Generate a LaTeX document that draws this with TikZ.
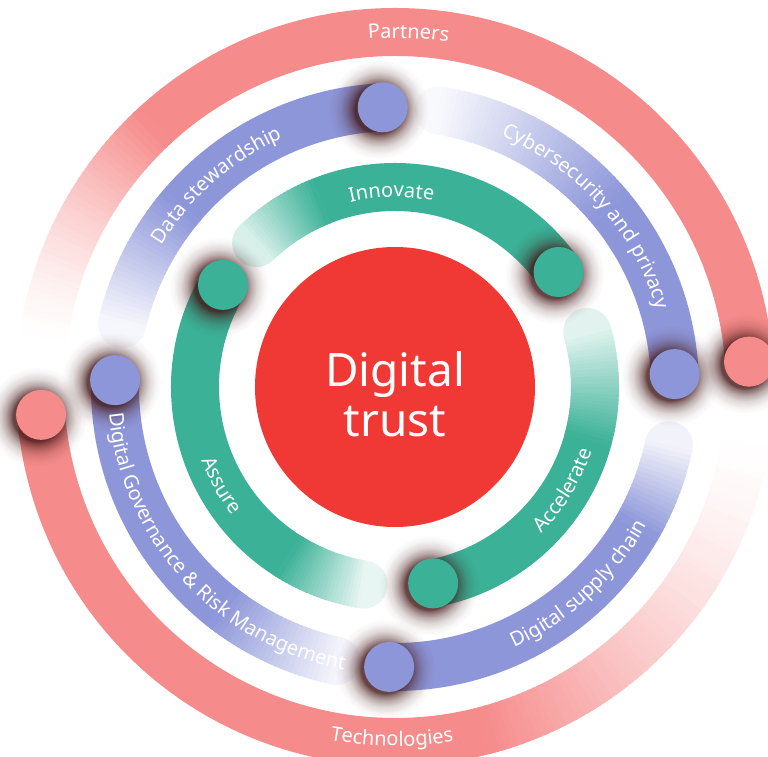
\documentclass[tikz,border=0pt]{standalone}
\usepackage{fontspec}
\setmainfont{Noto Sans}
\usetikzlibrary{decorations.text,fadings}

\definecolor{trustred}{RGB}{240,56,52}
\definecolor{ringgreen}{RGB}{59,177,151}
\definecolor{ringblue}{RGB}{141,150,217}
\definecolor{ringpink}{RGB}{246,139,139}
\definecolor{shadowbrown}{RGB}{66,20,20}

\newcommand{\ringlabelfont}{\fontsize{20pt}{20pt}\selectfont}
\newcommand{\trustfont}{\fontsize{46pt}{46pt}\selectfont}

% soft round shadow: opaque core, blurred rim (25bp is the rim of the fitted path)
\pgfdeclareradialshading{dotshadowshade}{\pgfpointorigin}{%
  color(0bp)=(white); color(12bp)=(white); color(13.5bp)=(white!75!black);
  color(16bp)=(white!45!black); color(19bp)=(white!20!black);
  color(22.5bp)=(white!5!black); color(25bp)=(black)}
\pgfdeclarefading{dotshadowfade}{\pgfuseshading{dotshadowshade}}

% one clockwise ring segment: tinted tail fading in, solid run, ends under a dot
% #1 colour, #2 radius, #3 start angle, #4 angle where it turns solid,
% #5 end angle, #6 starting tint (percent), #7 tint exponent
\newcommand{\ringseg}[7]{%
  \draw[band, draw=#1] (#4:#2pt) arc[start angle=#4, end angle=#5, radius=#2pt];
  \draw[band, line cap=round, draw=#1!#6!white] (#3:#2pt)
    arc[start angle=#3, end angle={#3+0.5*(#4-#3)/abs(#4-#3)}, radius=#2pt];
  \pgfmathtruncatemacro{\segN}{abs(#4-#3)}%
  \pgfmathtruncatemacro{\segM}{\segN-1}%
  \foreach \segK in {0,...,\segM}{%
    \pgfmathsetmacro{\segA}{#3+(#4-#3)*\segK/\segN}%
    \pgfmathsetmacro{\segB}{#3+(#4-#3)*(\segK+1.6)/\segN}%
    \pgfmathtruncatemacro{\segP}{#6+(100-#6)*((\segK+0.5)/\segN)^#7}%
    \draw[band, draw=#1!\segP!white] (\segA:#2pt) arc[start angle=\segA, end angle=\segB, radius=#2pt];
  }%
}

\begin{document}
\begin{tikzpicture}[x=1pt,y=1pt,
  band/.style={line width=48pt, line cap=butt},
  dot/.style={circle, minimum size=50pt, inner sep=0pt, outer sep=0pt, draw=none},
  dotshade/.style={fill=shadowbrown, fill opacity=0.8, path fading=dotshadowfade},
  trusttext/.style={text=white, font=\trustfont, anchor=base, inner sep=0pt},
  ringlabel/.style={decorate, decoration={text along path, text align=center,
      text color=white, text={|\ringlabelfont|#1}}}]

\useasboundingbox (-395,-370) rectangle (373,387);
\clip (-395,-370) rectangle (373,387);
\fill[white] (-395,-370) rectangle (373,387);

% core
\fill[trustred] (0,0) circle[radius=140pt];

% inner ring
\ringseg{ringgreen}{200}{134}{112}{35.1}{20}{1}
\ringseg{ringgreen}{200}{16}{-15}{-79}{15}{1}
\ringseg{ringgreen}{200}{-99}{-122}{-210.7}{12}{1}

% middle ring
\ringseg{ringblue}{280}{167}{140}{92.5}{8}{1}
\ringseg{ringblue}{280}{81}{40}{2.65}{6}{1}
\ringseg{ringblue}{280}{-12}{-30}{-91.2}{12}{1}
\ringseg{ringblue}{280}{-102}{-128}{-181.4}{10}{1}

% outer ring
\ringseg{ringpink}{355}{174}{133}{4.1}{0}{1.5}
\ringseg{ringpink}{355}{-6}{-75}{-175.5}{0}{1.5}

% shadows under the dots
\foreach \ang/\rad in {35.1/200pt, -79/200pt, 149.3/200pt, 92.5/280pt, 2.65/280pt,
    -91.2/280pt, 178.6/280pt, 4.1/355pt, -175.5/355pt}
  \fill[dotshade, shift={(-4pt,-2pt)}] (\ang:\rad) circle[radius=50pt];

% dots at the segment ends
\node[dot, fill=ringgreen] (gInnovate) at (35.1:200pt) {};
\node[dot, fill=ringgreen] (gAccelerate) at (-79:200pt) {};
\node[dot, fill=ringgreen] (gAssure) at (149.3:200pt) {};
\node[dot, fill=ringblue] (bData) at (92.5:280pt) {};
\node[dot, fill=ringblue] (bCyber) at (2.65:280pt) {};
\node[dot, fill=ringblue] (bSupply) at (-91.2:280pt) {};
\node[dot, fill=ringblue] (bGovern) at (178.6:280pt) {};
\node[dot, fill=ringpink] (pPartners) at (4.1:355pt) {};
\node[dot, fill=ringpink] (pTech) at (-175.5:355pt) {};

% centre title
\node[trusttext] (trustA) at (0,0) {Digital};
\node[trusttext] (trustB) at (0,-50) {trust};

% labels on the upper halves (read clockwise)
\path[ringlabel={Partners}] (127.8:349pt) arc[start angle=127.8, end angle=47.8, radius=349pt];
\path[ringlabel={Innovate}] (131:190pt) arc[start angle=131, end angle=51, radius=190pt];
\path[ringlabel={Data stewardship}] (191.5:273pt) arc[start angle=191.5, end angle=71.5, radius=273pt];
\path[ringlabel={Cybersecurity and privacy}] (101.8:273pt) arc[start angle=101.8, end angle=-18.2, radius=273pt];

% labels on the lower halves (read counter-clockwise)
\path[ringlabel={Technologies}] (-150.5:359pt) arc[start angle=-150.5, end angle=-30.5, radius=359pt];
\path[ringlabel={Accelerate}] (-71.5:207pt) arc[start angle=-71.5, end angle=8.5, radius=207pt];
\path[ringlabel={Assure}] (-190.5:207pt) arc[start angle=-190.5, end angle=-110.5, radius=207pt];
\path[ringlabel={Digital supply chain}] (-107:287pt) arc[start angle=-107, end angle=13, radius=287pt];
\path[ringlabel={Digital Governance {\&} Risk Management}] (-197.5:287pt) arc[start angle=-197.5, end angle=-77.5, radius=287pt];

\end{tikzpicture}
\end{document}
